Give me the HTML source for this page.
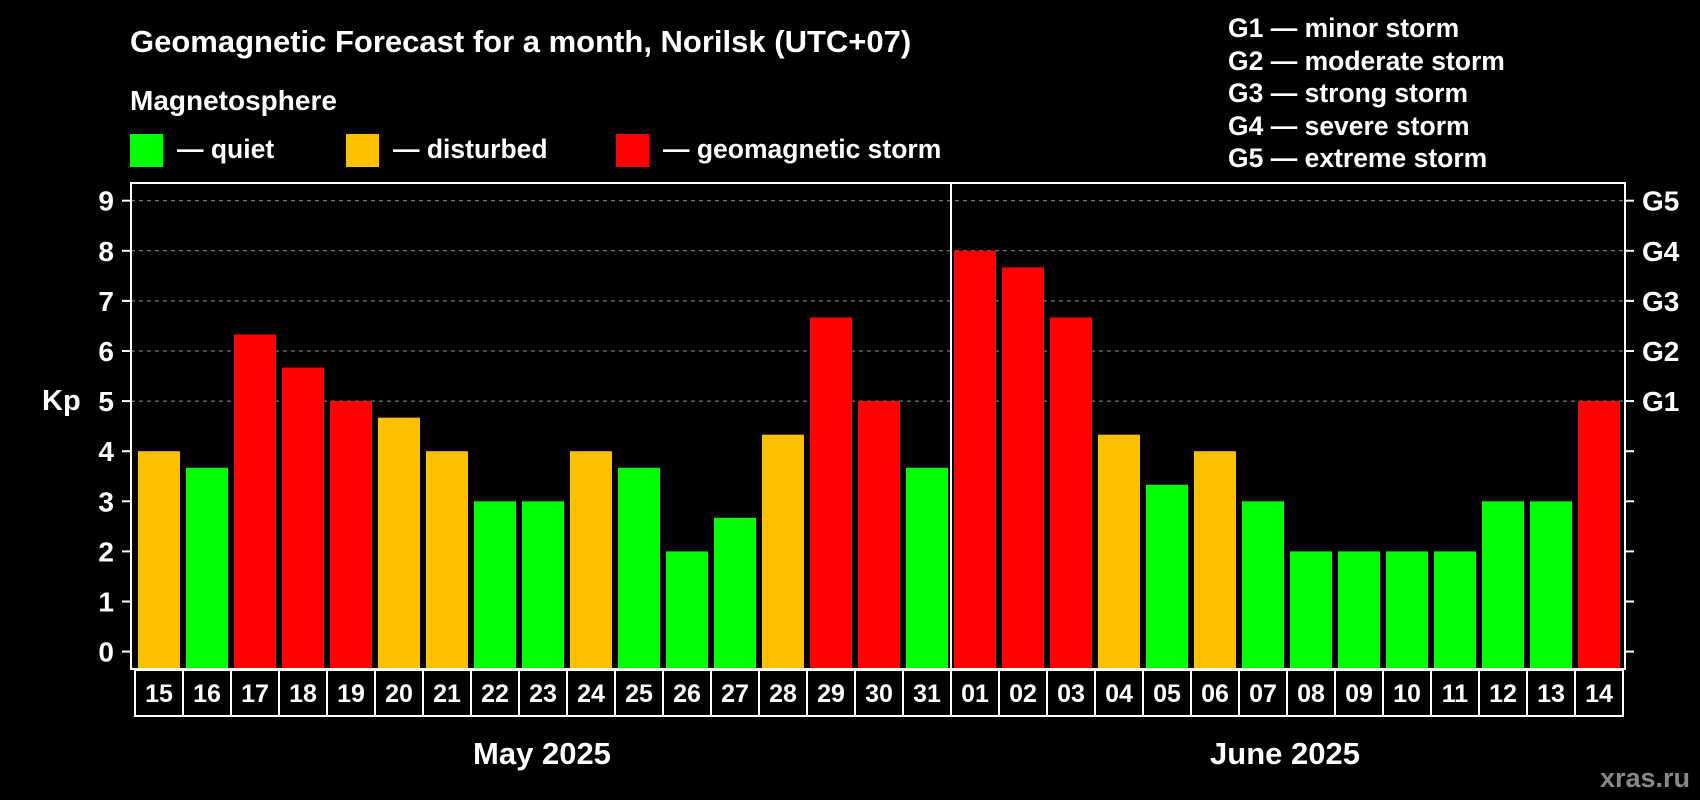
<!DOCTYPE html>
<html><head><meta charset="utf-8"><style>
html,body{margin:0;padding:0;background:#000;}
svg{display:block;font-family:"Liberation Sans",sans-serif;font-weight:bold;}
</style></head><body>
<svg id="chart" width="1700" height="800" viewBox="0 0 1700 800">
<rect width="1700" height="800" fill="#000"/>
<text x="130" y="52" fill="#fff" font-size="31">Geomagnetic Forecast for a month, Norilsk (UTC+07)</text>
<text x="130" y="110" fill="#fff" font-size="28">Magnetosphere</text>
<g><rect x="130" y="134" width="33" height="33" fill="#00ff00"/><text x="177" y="158" fill="#fff" font-size="26.5">— quiet</text></g>
<g><rect x="346" y="134" width="33" height="33" fill="#ffc000"/><text x="393" y="158" fill="#fff" font-size="26.5">— disturbed</text></g>
<g><rect x="616" y="134" width="33" height="33" fill="#ff0000"/><text x="663" y="158" fill="#fff" font-size="26.5">— geomagnetic storm</text></g>
<g fill="#fff" font-size="26.5">
<text x="1228" y="37">G1 — minor storm</text>
<text x="1228" y="70">G2 — moderate storm</text>
<text x="1228" y="102">G3 — strong storm</text>
<text x="1228" y="135">G4 — severe storm</text>
<text x="1228" y="167">G5 — extreme storm</text>
</g>
<text x="42" y="410" fill="#fff" font-size="29">Kp</text>
<g id="grid"></g><g id="bars"></g><g id="axes"></g>
<text x="542" y="764" fill="#fff" font-size="31" text-anchor="middle">May 2025</text>
<text x="1285" y="764" fill="#fff" font-size="31" text-anchor="middle">June 2025</text>
<text x="1690" y="787" fill="#888" font-size="27" text-anchor="end">xras.ru</text>
</svg>
<script>
const days=["15","16","17","18","19","20","21","22","23","24","25","26","27","28","29","30","31","01","02","03","04","05","06","07","08","09","10","11","12","13","14"];
const kp=[4,3.67,6.33,5.67,5,4.67,4,3,3,4,3.67,2,2.67,4.33,6.67,5,3.67,8,7.67,6.67,4.33,3.33,4,3,2,2,2,2,3,3,5];
const yTicks=["0","1","2","3","4","5","6","7","8","9"];
const gLabels=["G1","G2","G3","G4","G5"];
const NS="http://www.w3.org/2000/svg";
const L=131,R=1625,T=183,B=669,y0=651.6,unit=50.1;
const y=v=>y0-v*unit;
const x=i=>138+i*48;
function mk(tag,attrs,parent){const e=document.createElementNS(NS,tag);for(const k in attrs)e.setAttribute(k,attrs[k]);parent.appendChild(e);return e;}
const grid=document.getElementById('grid'),bars=document.getElementById('bars'),axes=document.getElementById('axes');
for(let v=5;v<=9;v++){
 const l=mk('line',{x1:L,x2:R,y1:y(v),y2:y(v),stroke:'#999','stroke-width':1,'stroke-dasharray':'4,4'},grid);
 
 
}
kp.forEach((v,i)=>{
 const c=v>=5?'#ff0000':(v>=4?'#ffc000':'#00ff00');
 const r=mk('rect',{x:x(i),y:y(v),width:42,height:B-1-y(v),fill:c},bars);
 
 
 const b=mk('rect',{x:x(i)-3,y:B+1,width:48,height:46,fill:'none',stroke:'#fff','stroke-width':2},axes);
 
 
 const t=mk('text',{x:x(i)+21,y:B+33,fill:'#fff','font-size':25,'text-anchor':'middle'},axes);
 t.textContent=days[i];
 
 
});
const frame=mk('rect',{x:L,y:T,width:R-L,height:B-T,fill:'none',stroke:'#fff','stroke-width':2},axes);


const div=mk('line',{x1:951,x2:951,y1:T,y2:B,stroke:'#fff','stroke-width':2},axes);


yTicks.forEach((s,v)=>{
 mk('line',{x1:L-9,x2:L,y1:y(v),y2:y(v),stroke:'#fff','stroke-width':2},axes);
 mk('line',{x1:R,x2:R+9,y1:y(v),y2:y(v),stroke:'#fff','stroke-width':2},axes);
 const t=mk('text',{x:114,y:y(v)+10,fill:'#fff','font-size':28,'text-anchor':'end'},axes);
 t.textContent=s;
 
 
});
gLabels.forEach((s,i)=>{
 const t=mk('text',{x:1642,y:y(5+i)+10,fill:'#fff','font-size':28},axes);
 t.textContent=s;
 
 
});
</script>
</body></html>
